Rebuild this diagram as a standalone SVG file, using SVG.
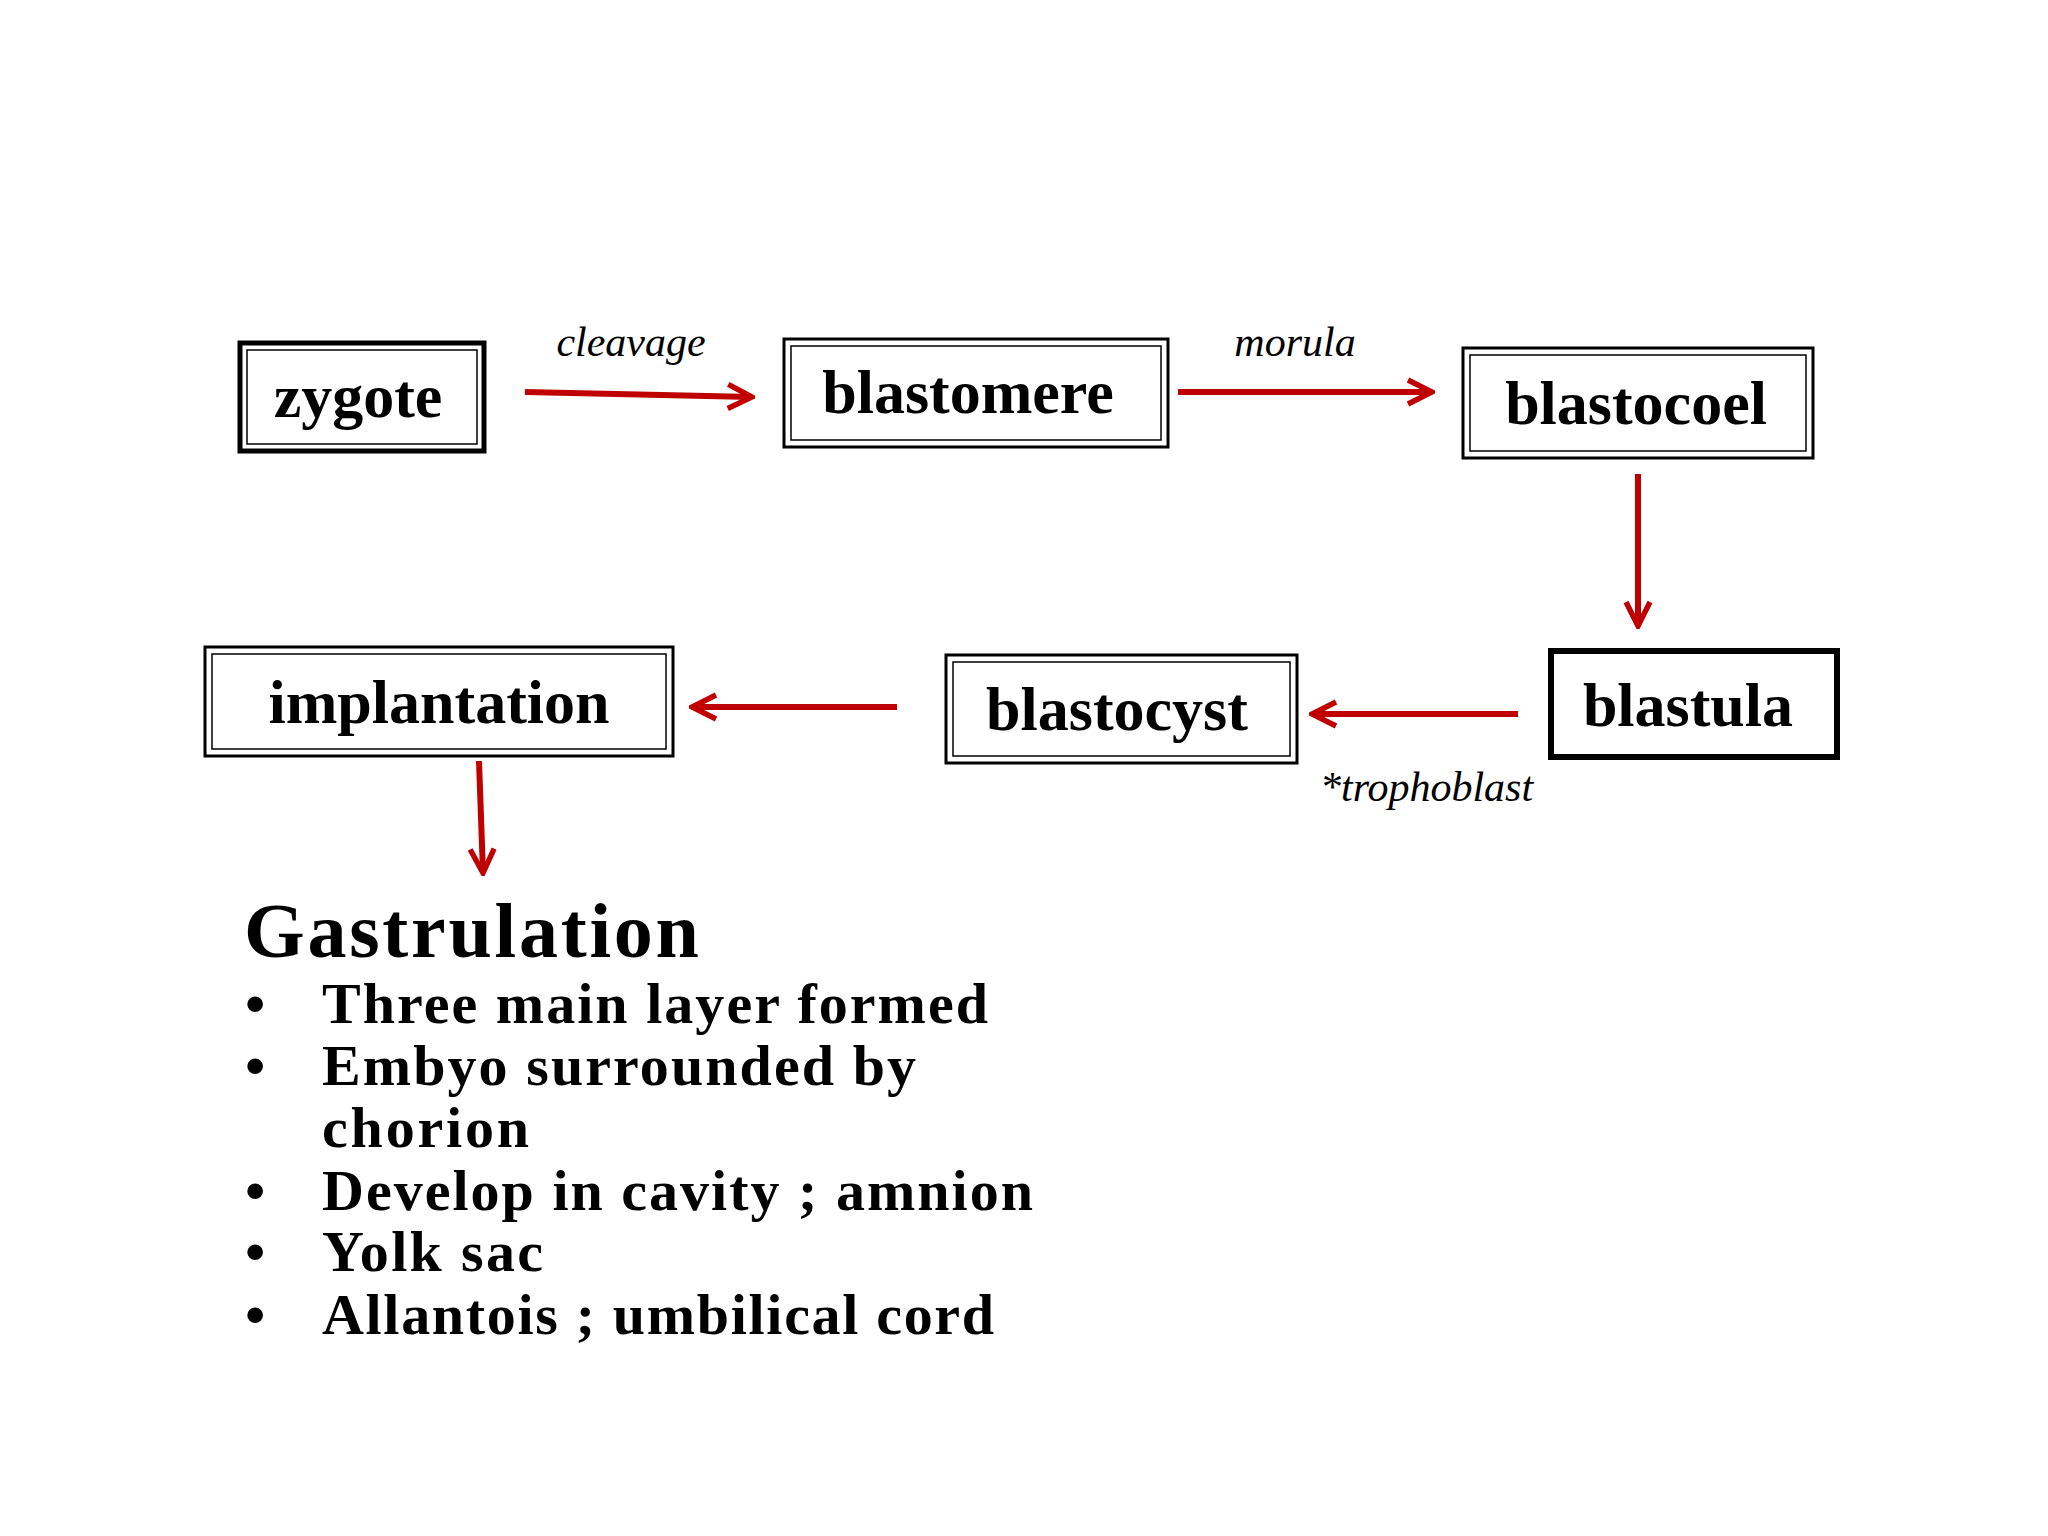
<svg xmlns="http://www.w3.org/2000/svg" width="2048" height="1536" viewBox="0 0 2048 1536">
<style>
.o{fill:none;stroke:#000;stroke-width:3}
.i{fill:none;stroke:#000;stroke-width:1.5}
.n{font-family:"Liberation Serif",serif;font-weight:bold;font-size:62px;text-anchor:middle}
.l{font-family:"Liberation Serif",serif;font-style:italic;font-size:42px;text-anchor:middle}
.c{stroke:#c00000;stroke-width:6;fill:none;marker-end:url(#a)}
.b{font-family:"Liberation Serif",serif;font-weight:bold;font-size:58px}
</style>
<defs><marker id="a" viewBox="0 0 10 10" refX="9" refY="5" markerWidth="5" markerHeight="6" orient="auto" markerUnits="strokeWidth"><path d="M1,1 L9,5 L1,9" fill="none" stroke="#c00000" stroke-width="1.8"/></marker></defs>
<rect width="2048" height="1536" fill="#fff"/>
<g id="zygote"><rect x="240" y="343" width="244" height="108" fill="none" stroke="#000" stroke-width="5"/><rect x="247" y="350" width="230" height="94" class="i"/><text x="358" y="417" class="n">zygote</text></g>
<g id="blastomere"><rect x="784" y="339" width="384" height="108" class="o"/><rect x="791" y="346" width="370" height="94" class="i"/><text x="968" y="413" class="n">blastomere</text></g>
<g id="blastocoel"><rect x="1463" y="348" width="350" height="110" class="o"/><rect x="1470" y="355" width="336" height="96" class="i"/><text x="1636" y="424" class="n">blastocoel</text></g>
<g id="blastula"><rect x="1551" y="651" width="286" height="106" fill="none" stroke="#000" stroke-width="6"/><text x="1688" y="726" class="n">blastula</text></g>
<g id="blastocyst"><rect x="946" y="655" width="351" height="108" class="o"/><rect x="953" y="662" width="337" height="94" class="i"/><text x="1117" y="730" class="n">blastocyst</text></g>
<g id="implantation"><rect x="205" y="647" width="468" height="109" class="o"/><rect x="212" y="654" width="454" height="95" class="i"/><text x="439" y="723" class="n">implantation</text></g>
<g id="connectors">
<line x1="525" y1="392" x2="752" y2="397" class="c"/>
<line x1="1178" y1="392" x2="1432" y2="392" class="c"/>
<line x1="1638" y1="474" x2="1638" y2="626" class="c"/>
<line x1="1518" y1="714" x2="1312" y2="714" class="c"/>
<line x1="897" y1="707" x2="692" y2="707" class="c"/>
<line x1="479" y1="761" x2="483" y2="873" class="c"/>
</g>
<text x="631" y="356" class="l">cleavage</text>
<text x="1295" y="356" class="l">morula</text>
<text x="1320" y="801" class="l" style="text-anchor:start">*trophoblast</text>
<text x="244" y="957" class="b" style="font-size:78px" textLength="455">Gastrulation</text>
<g class="b">
<text x="245" y="1023">•</text><text x="322" y="1023" textLength="666">Three main layer formed</text>
<text x="245" y="1085">•</text><text x="322" y="1085" textLength="594">Embyo surrounded by</text>
<text x="322" y="1147" textLength="207">chorion</text>
<text x="245" y="1210">•</text><text x="322" y="1210" textLength="711">Develop in cavity ; amnion</text>
<text x="245" y="1271">•</text><text x="322" y="1271" textLength="221">Yolk sac</text>
<text x="245" y="1334">•</text><text x="322" y="1334" textLength="672">Allantois ; umbilical cord</text>
</g>
</svg>
